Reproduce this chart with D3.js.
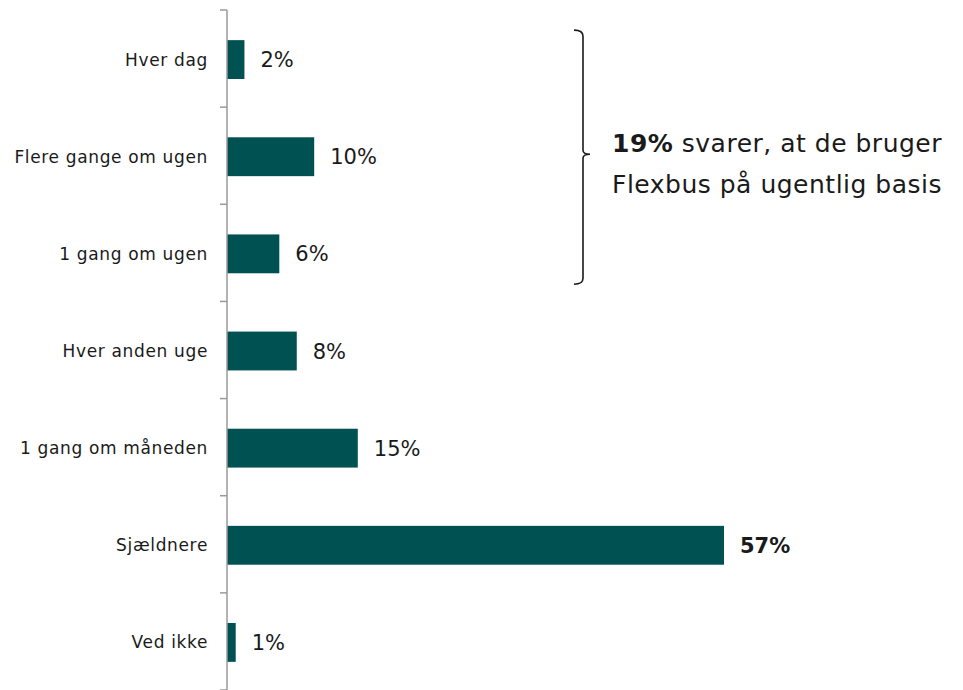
<!DOCTYPE html>
<html>
<head>
<meta charset="utf-8">
<script src="https://cdn.jsdelivr.net/npm/d3@7"></script>
<style>
  html, body { margin: 0; padding: 0; background: #fff; }
  svg text { font-family: "DejaVu Sans", "Open Sans", sans-serif; fill: #1a1a1a; }
</style>
</head>
<body>
<svg id="chart" width="963" height="690"></svg>
<script>
// Frequency of Flexbus use
const categories = ["Hver dag", "Flere gange om ugen", "1 gang om ugen", "Hver anden uge", "1 gang om måneden", "Sjældnere", "Ved ikke"];
const values = [2, 10, 6, 8, 15, 57, 1];
const highlighted = ["Sjældnere"];
const weeklyGroup = ["Hver dag", "Flere gange om ugen", "1 gang om ugen"];
const noteBold = "19%";
const noteLines = [" svarer, at de bruger", "Flexbus på ugentlig basis"];

const svg = d3.select("#chart");
const axisX = 227;

const x = d3.scaleLinear().domain([0, 57]).range([axisX, 724]);
const y = d3.scaleBand().domain(categories).range([10, 690]).paddingInner(0.6).paddingOuter(0.3);

const bw = y.bandwidth();
const step = y.step();

// bars
svg.append("g").selectAll("rect")
  .data(categories)
  .join("rect")
  .attr("x", x(0))
  .attr("y", d => y(d) + 1)
  .attr("width", (d, i) => x(values[i]) - x(0))
  .attr("height", bw)
  .attr("fill", "#005151");

// category axis with ticks on band boundaries
const axisG = svg.append("g");
axisG.append("line")
  .attr("x1", axisX).attr("x2", axisX)
  .attr("y1", 10).attr("y2", 690)
  .attr("stroke", "#9a9a9a").attr("stroke-width", 1.5);
const bounds = categories.map(d => y(d) - step * 0.3).concat([690]);
axisG.selectAll("line.tick")
  .data(bounds)
  .join("line")
  .attr("class", "tick")
  .attr("x1", axisX - 7).attr("x2", axisX)
  .attr("y1", d => d).attr("y2", d => d)
  .attr("stroke", "#9a9a9a").attr("stroke-width", 1.5);

axisG.selectAll("text")
  .data(categories)
  .join("text")
  .attr("x", axisX - 19)
  .attr("y", d => y(d) + bw / 2 + 1)
  .attr("dy", "0.35em")
  .attr("text-anchor", "end")
  .style("font-size", "17px")
  .style("letter-spacing", "0.65px")
  .text(d => d);

// value labels
svg.append("g").selectAll("text")
  .data(categories)
  .join("text")
  .attr("x", (d, i) => x(values[i]) + 16)
  .attr("y", d => y(d) + bw / 2 + 1)
  .attr("dy", "0.36em")
  .style("font-size", "21px")
  .style("font-weight", d => highlighted.includes(d) ? "700" : "400")
  .text((d, i) => values[i] + "%");

// brace around the weekly categories
const bTop = y(weeklyGroup[0]) - 9;
const bBot = y(weeklyGroup[weeklyGroup.length - 1]) + bw + 12;
const bMid = (bTop + bBot) / 2 - 3;
const bx = 583;
const brace = d3.path();
brace.moveTo(bx - 9, bTop);
brace.quadraticCurveTo(bx, bTop, bx, bTop + 6);
brace.lineTo(bx, bMid - 4);
brace.quadraticCurveTo(bx, bMid, bx + 7, bMid);
brace.quadraticCurveTo(bx, bMid, bx, bMid + 4);
brace.lineTo(bx, bBot - 6);
brace.quadraticCurveTo(bx, bBot, bx - 9, bBot);
svg.append("path")
  .attr("d", brace.toString())
  .attr("fill", "none")
  .attr("stroke", "#1a1a1a")
  .attr("stroke-width", 1.6);

// note text
const note = svg.append("text")
  .attr("x", 612)
  .attr("y", 152)
  .style("font-size", "25px")
  .style("letter-spacing", "0.5px");
note.append("tspan").style("font-weight", "700").text(noteBold);
note.append("tspan").text(noteLines[0]);
note.append("tspan").attr("x", 612).attr("dy", 41).text(noteLines[1]);
</script>
</body>
</html>
